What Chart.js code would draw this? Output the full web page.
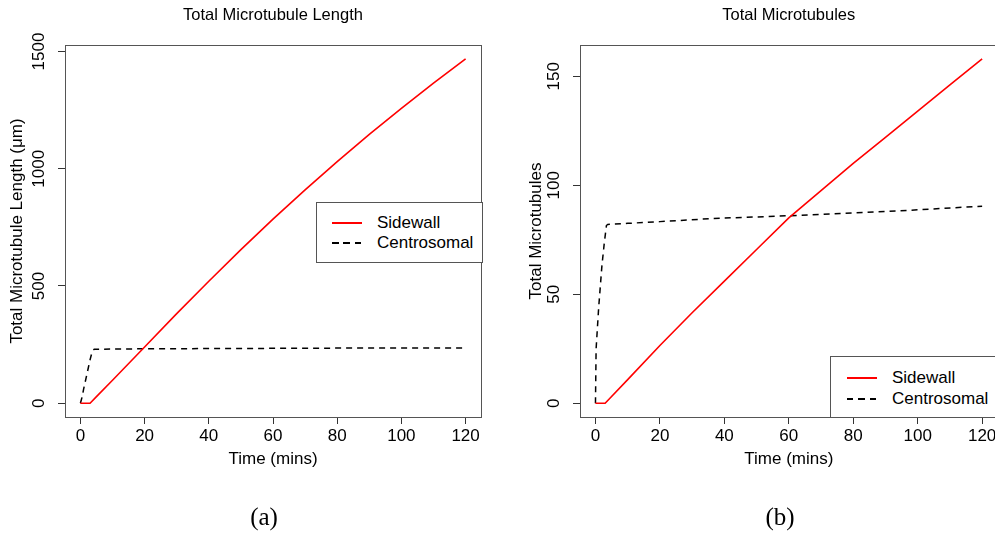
<!DOCTYPE html>
<html>
<head>
<meta charset="utf-8">
<script src="https://cdn.jsdelivr.net/npm/chart.js@4/dist/chart.umd.min.js"></script>
<style>
	html, body { margin: 0; padding: 0; background: #fff; }
	body { position: relative; width: 995px; height: 533px; overflow: hidden; font-family: "Liberation Sans", Arial, sans-serif; }
	canvas { position: absolute; top: 0; }
	.legende { position: absolute; border: 1px solid #555; background: #fff; box-sizing: border-box; }
	.ligne { position: absolute; width: 30px; height: 1.5px; }
	.rouge { background: #ff0000; }
	.tirets { background: repeating-linear-gradient(to right, #000 0 6.5px, transparent 6.5px 11.5px); }
	.texte { position: absolute; height: 20px; line-height: 20px; font-size: 17px; color: #000; white-space: nowrap; }
	.legende-titre { position: absolute; top: 500px; width: 60px; text-align: center; line-height: 34px; font-family: "Liberation Serif", "DejaVu Serif", serif; font-size: 25px; }
</style>
</head>
<body>
<canvas id="graphique-longueur" width="497" height="533" style="left:0"></canvas>
<canvas id="graphique-nombre" width="510" height="533" style="left:497px"></canvas>

<div class="legende" style="left:316px; top:202px; width:167px; height:61px;">
	<div class="ligne rouge" style="left:15px; top:19px;"></div>
	<div class="texte" style="left:60px; top:10px;">Sidewall</div>
	<div class="ligne tirets" style="left:15px; top:39px;"></div>
	<div class="texte" style="left:60px; top:30px;">Centrosomal</div>
</div>
<div class="legende" style="left:830px; top:356px; width:200px; height:62px;">
	<div class="ligne rouge" style="left:16px; top:20px;"></div>
	<div class="texte" style="left:61px; top:11px;">Sidewall</div>
	<div class="ligne tirets" style="left:16px; top:41px;"></div>
	<div class="texte" style="left:61px; top:32px;">Centrosomal</div>
</div>

<div class="legende-titre" style="left:234px;">(a)</div>
<div class="legende-titre" style="left:750px;">(b)</div>

<script>
// temps (mins)
const tempsSidewall = [0, 3, 5, 10, 20, 30, 40, 50, 60, 70, 80, 90, 100, 110, 120];
const tempsCentroLong = [0, 0.5, 1, 2, 3, 3.7, 4.3, 10, 20, 40, 60, 80, 100, 120];
const tempsCentroNb = [0, 0.2, 1, 2, 2.7, 3.4, 3.8, 10, 20, 36, 60, 76, 100, 120];

// (a) longueur totale (um)
const longueurSidewall = [0, 0, 28, 98, 240, 382, 520, 655, 785, 910, 1030, 1147, 1257, 1365, 1469];
const longueurCentro = [0, 25, 60, 122, 185, 222, 230, 231, 232, 233, 234, 235, 235.5, 236];

// (b) nombre total
const nombreSidewall = [0, 0, 3.1, 10.8, 26.5, 41.5, 56, 70.5, 85, 97.5, 110, 122, 134, 146, 158];
const nombreCentro = [0, 25, 44, 63, 73, 81.5, 82, 82.5, 83.3, 84.7, 86, 87, 88.7, 90.4];

const ticksTemps = [0, 20, 40, 60, 80, 100, 120];
const ticksLongueur = [0, 500, 1000, 1500];
const ticksNombre = [0, 50, 100, 150];

function points(xs, ys) {
	return xs.map((x, i) => ({x: x, y: ys[i]}));
}

const cadre = {
	id: "cadre",
	afterDraw(chart) {
		const a = chart.chartArea;
		const ctx = chart.ctx;
		ctx.save();
		ctx.strokeStyle = "#555";
		ctx.lineWidth = 1;
		ctx.strokeRect(Math.round(a.left) + 0.5, Math.round(a.top) + 0.5, Math.round(a.right - a.left), Math.round(a.bottom - a.top));
		ctx.restore();
	}
};

function creerGraphique(canvas, titre, titreY, sw, centro, yMin, yMax, ticksY, largeurY, padRight, padTicksY, padTitreY) {
	const police = {family: "'Liberation Sans', Arial, sans-serif", size: 17};
	const grille = {display: true, drawOnChartArea: false, drawTicks: true, tickLength: 7, tickColor: "#333", tickWidth: 1};
	return new Chart(canvas, {
		type: "line",
		data: {
			datasets: [{
				label: "Sidewall",
				data: sw,
				borderColor: "#ff0000",
				borderWidth: 1.6,
			}, {
				label: "Centrosomal",
				data: centro,
				borderColor: "#000",
				borderWidth: 1.5,
				borderDash: [6, 5],
			}],
		},
		options: {
			responsive: false,
			animation: false,
			devicePixelRatio: 1,
			layout: {padding: {left: 0, right: padRight, top: 0, bottom: 0}},
			elements: {point: {radius: 0}, line: {tension: 0}},
			plugins: {
				legend: {display: false},
				tooltip: {enabled: false},
				title: {
					display: true,
					text: titre,
					fullSize: false,
					color: "#000",
					font: {family: "'Liberation Sans', Arial, sans-serif", size: 16.5, weight: "normal"},
					padding: {top: 6, bottom: 19.2},
				},
			},
			scales: {
				x: {
					type: "linear",
					min: -4.8,
					max: 124.8,
					afterBuildTicks: s => { s.ticks = ticksTemps.map(v => ({value: v})); },
					afterFit: s => { s.height = 116; },
					ticks: {font: police, color: "#000", padding: 2, maxRotation: 0, autoSkip: false, callback: v => String(v)},
					grid: grille,
					border: {display: false},
					title: {display: true, text: "Time (mins)", color: "#000", font: police, padding: {top: 0, bottom: 63}},
				},
				y: {
					type: "linear",
					min: yMin,
					max: yMax,
					afterBuildTicks: s => { s.ticks = ticksY.map(v => ({value: v})); },
					afterFit: s => { s.width = largeurY; },
					ticks: {font: police, color: "#000", padding: padTicksY, minRotation: 90, maxRotation: 90, crossAlign: "center", autoSkip: false, callback: v => String(v)},
					grid: grille,
					border: {display: false},
					title: {display: true, text: titreY, color: "#000", font: police, padding: {top: padTitreY, bottom: 0}},
				},
			},
		},
		plugins: [cadre],
	});
}

creerGraphique(document.querySelector("#graphique-longueur"), "Total Microtubule Length", "Total Microtubule Length (\u03bcm)",
	points(tempsSidewall, longueurSidewall), points(tempsCentroLong, longueurCentro),
	-58.8, 1527.8, ticksLongueur, 65, 16, 0, 7);

creerGraphique(document.querySelector("#graphique-nombre"), "Total Microtubules", "Total Microtubules",
	points(tempsSidewall, nombreSidewall), points(tempsCentroNb, nombreCentro),
	-6.32, 164.32, ticksNombre, 83, 9.4, 5, 29);
</script>
</body>
</html>
